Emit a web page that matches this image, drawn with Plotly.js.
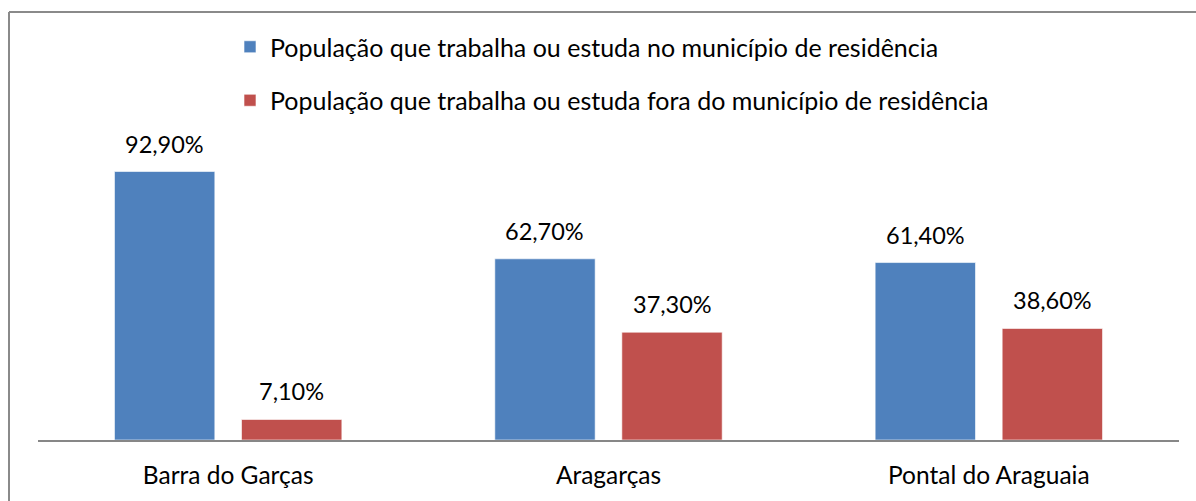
<!DOCTYPE html>
<html>
<head>
<meta charset="utf-8">
<script src="https://cdn.plot.ly/plotly-3.0.1.min.js"></script>
<style>html,body{margin:0;padding:0;background:#fff;}#chart{width:1196px;height:501px;}</style>
</head>
<body>
<div id="chart"></div>
<script>
const categories = ["Barra do Garças", "Aragarças", "Pontal do Araguaia"];
const seriesNames = [
  "População que trabalha ou estuda no município de residência",
  "População que trabalha ou estuda fora do município de residência"
];
const inside = [92.9, 62.7, 61.4];
const outside = [7.1, 37.3, 38.6];
const colors = ["#4F81BD", "#C0504D"];

const W = 1196, H = 501;
const margin = {l: 38, r: 17, t: 151, b: 61};
const plotW = W - margin.l - margin.r;
const plotH = H - margin.t - margin.b;
const bargap = 0.332, bargroupgap = 0.21;
const FONT = 'Lato, Carlito, Calibri, sans-serif';

const fmt = v => v.toFixed(2).replace('.', ',') + '%';
const series = [inside, outside];

const traces = series.map((vals, i) => ({
  type: 'bar',
  name: seriesNames[i],
  x: categories,
  y: vals,
  legendgroup: 'g' + i,
  marker: {color: colors[i], line: {color: 'rgba(255,255,255,0.6)', width: 1}},
  hoverinfo: 'none'
}));

// label offsets from bar geometry
const catW = plotW / categories.length;
const slotW = catW * (1 - bargap) / 2;
const annotations = [];
series.forEach((vals, i) => {
  vals.forEach((v, j) => {
    annotations.push({
      x: categories[j], y: v, xref: 'x', yref: 'y',
      text: fmt(v), showarrow: false,
      xanchor: 'center', yanchor: 'bottom',
      xshift: (i === 0 ? -1 : 1) * slotW / 2,
      yshift: 12,
      font: {family: FONT, size: 23.5, color: '#000'}
    });
  });
});

const bx = (9 - margin.l) / plotW;
const by = (plotH + margin.t - 12) / plotH;

const layout = {
  width: W, height: H,
  margin: margin,
  paper_bgcolor: '#fff', plot_bgcolor: '#fff',
  barmode: 'group', bargap: bargap, bargroupgap: bargroupgap,
  showlegend: true,
  legend: {
    x: (230 - margin.l) / plotW, xanchor: 'left',
    y: (plotH + margin.t - 24) / plotH, yanchor: 'top',
    orientation: 'v', traceorder: 'grouped', tracegroupgap: 18,
    font: {family: FONT, size: 25, color: '#000'},
    bgcolor: 'rgba(0,0,0,0)', itemwidth: 30
  },
  xaxis: {
    type: 'category', showline: true, linecolor: '#878787', linewidth: 2,
    ticks: '', showgrid: false, zeroline: false,
    tickfont: {family: FONT, size: 24.5, color: '#000'},
    ticklabelstandoff: 13, fixedrange: true
  },
  yaxis: {
    range: [0, 100], visible: false, showgrid: false, zeroline: false, fixedrange: true
  },
  annotations: annotations,
  shapes: [
    {type: 'line', xref: 'paper', yref: 'paper', x0: bx, x1: bx, y0: -1, y1: by, line: {color: '#8a8a8a', width: 2}},
    {type: 'line', xref: 'paper', yref: 'paper', x0: bx, x1: 1.2, y0: by, y1: by, line: {color: '#8a8a8a', width: 2}}
  ]
};

Plotly.newPlot('chart', traces, layout, {staticPlot: true, displayModeBar: false});
</script>
</body>
</html>
